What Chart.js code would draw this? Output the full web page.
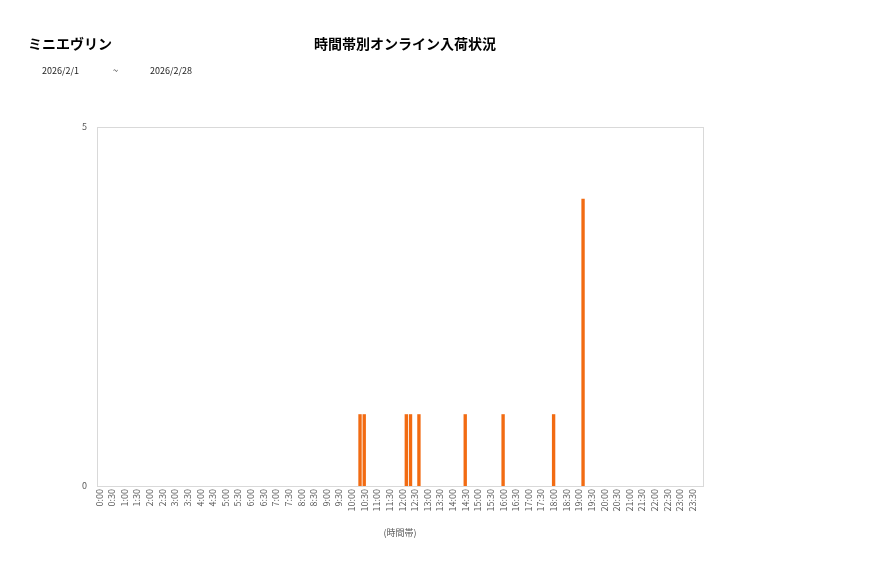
<!DOCTYPE html>
<html lang="ja">
<head>
<meta charset="utf-8">
<title>時間帯別オンライン入荷状況</title>
<script src="https://cdn.jsdelivr.net/npm/chart.js@4.4.1/dist/chart.umd.min.js"></script>
<style>
    body { margin: 0; background: #fff; font-family: "Noto Sans CJK JP", "Noto Sans", sans-serif; }
    #wrap { position: relative; width: 877px; height: 578px; }
    #chart { position: absolute; left: 0; top: 0; }
    .txt { position: absolute; color: #000; white-space: nowrap; }
    #shop { left: 28px; top: 33px; font-size: 14px; font-weight: bold; }
    #title { left: 314px; top: 33px; font-size: 14px; font-weight: bold; }
    .date { top: 64px; font-size: 9px; color: #222; }
</style>
</head>
<body>
<div id="wrap">
    <canvas id="chart" width="877" height="578"></canvas>
    <div class="txt" id="shop">ミニエヴリン</div>
    <div class="txt" id="title">時間帯別オンライン入荷状況</div>
    <div class="txt date" style="left:42px">2026/2/1</div>
    <div class="txt date" style="left:113px">~</div>
    <div class="txt date" style="left:150px">2026/2/28</div>
</div>
<script>
// 10分刻みの時間帯
const slots = [
    '0:00','0:10','0:20','0:30','0:40','0:50',
    '1:00','1:10','1:20','1:30','1:40','1:50',
    '2:00','2:10','2:20','2:30','2:40','2:50',
    '3:00','3:10','3:20','3:30','3:40','3:50',
    '4:00','4:10','4:20','4:30','4:40','4:50',
    '5:00','5:10','5:20','5:30','5:40','5:50',
    '6:00','6:10','6:20','6:30','6:40','6:50',
    '7:00','7:10','7:20','7:30','7:40','7:50',
    '8:00','8:10','8:20','8:30','8:40','8:50',
    '9:00','9:10','9:20','9:30','9:40','9:50',
    '10:00','10:10','10:20','10:30','10:40','10:50',
    '11:00','11:10','11:20','11:30','11:40','11:50',
    '12:00','12:10','12:20','12:30','12:40','12:50',
    '13:00','13:10','13:20','13:30','13:40','13:50',
    '14:00','14:10','14:20','14:30','14:40','14:50',
    '15:00','15:10','15:20','15:30','15:40','15:50',
    '16:00','16:10','16:20','16:30','16:40','16:50',
    '17:00','17:10','17:20','17:30','17:40','17:50',
    '18:00','18:10','18:20','18:30','18:40','18:50',
    '19:00','19:10','19:20','19:30','19:40','19:50',
    '20:00','20:10','20:20','20:30','20:40','20:50',
    '21:00','21:10','21:20','21:30','21:40','21:50',
    '22:00','22:10','22:20','22:30','22:40','22:50',
    '23:00','23:10','23:20','23:30','23:40','23:50'
];

// 入荷件数
const arrivals = [
    0,0,0,0,0,0,  0,0,0,0,0,0,  0,0,0,0,0,0,  0,0,0,0,0,0,
    0,0,0,0,0,0,  0,0,0,0,0,0,  0,0,0,0,0,0,  0,0,0,0,0,0,
    0,0,0,0,0,0,  0,0,0,0,0,0,  0,0,1,1,0,0,  0,0,0,0,0,0,
    0,1,1,0,1,0,  0,0,0,0,0,0,  0,0,0,1,0,0,  0,0,0,0,0,0,
    1,0,0,0,0,0,  0,0,0,0,0,0,  1,0,0,0,0,0,  0,4,0,0,0,0,
    0,0,0,0,0,0,  0,0,0,0,0,0,  0,0,0,0,0,0,  0,0,0,0,0,0
];

// 表示する目盛りラベル (30分毎)
const tickLabels = [
    '0:00','0:30','1:00','1:30','2:00','2:30','3:00','3:30',
    '4:00','4:30','5:00','5:30','6:00','6:30','7:00','7:30',
    '8:00','8:30','9:00','9:30','10:00','10:30','11:00','11:30',
    '12:00','12:30','13:00','13:30','14:00','14:30','15:00','15:30',
    '16:00','16:30','17:00','17:30','18:00','18:30','19:00','19:30',
    '20:00','20:30','21:00','21:30','22:00','22:30','23:00','23:30'
];

const yTicks = [0, 5];

const GRAY = '#595959';
const FONT = '"Noto Sans CJK JP", "Noto Sans", sans-serif';

// 枠線
const frame = {
    id: 'frame',
    afterDatasetsDraw(chart) {
        const { ctx, chartArea: a } = chart;
        ctx.save();
        ctx.strokeStyle = '#d9d9d9';
        ctx.lineWidth = 1;
        ctx.strokeRect(Math.round(a.left) + 0.5, Math.round(a.top) + 0.5,
            Math.round(a.right - a.left), Math.round(a.bottom - a.top));
        ctx.restore();
    }
};

new Chart(document.getElementById('chart'), {
    type: 'bar',
    data: {
        labels: slots,
        datasets: [{
            data: arrivals,
            backgroundColor: '#f26b12',
            barPercentage: 0.8,
            categoryPercentage: 1.0
        }]
    },
    options: {
        responsive: false,
        animation: false,
        layout: { padding: { left: 0, top: 127, right: 174, bottom: 0 } },
        plugins: {
            legend: { display: false },
            tooltip: { enabled: false }
        },
        scales: {
            x: {
                grid: { display: false, drawTicks: false },
                border: { display: false },
                ticks: {
                    autoSkip: false,
                    minRotation: 90,
                    maxRotation: 90,
                    padding: 3,
                    color: GRAY,
                    font: { family: FONT, size: 9 },
                    callback(v) {
                        const s = slots[v];
                        return tickLabels.includes(s) ? s : '';
                    }
                },
                title: {
                    display: true,
                    text: '(時間帯)',
                    color: GRAY,
                    font: { family: FONT, size: 9 },
                    padding: { top: 0, bottom: 40 }
                },
                afterFit(scale) { scale.height = 92; }
            },
            y: {
                min: 0,
                max: 5,
                grid: { display: false, drawTicks: false },
                border: { display: false },
                afterBuildTicks(scale) { scale.ticks = yTicks.map(v => ({ value: v })); },
                ticks: {
                    padding: 10,
                    color: GRAY,
                    font: { family: FONT, size: 9 }
                },
                afterFit(scale) { scale.width = 97; }
            }
        }
    },
    plugins: [frame]
});
</script>
</body>
</html>
